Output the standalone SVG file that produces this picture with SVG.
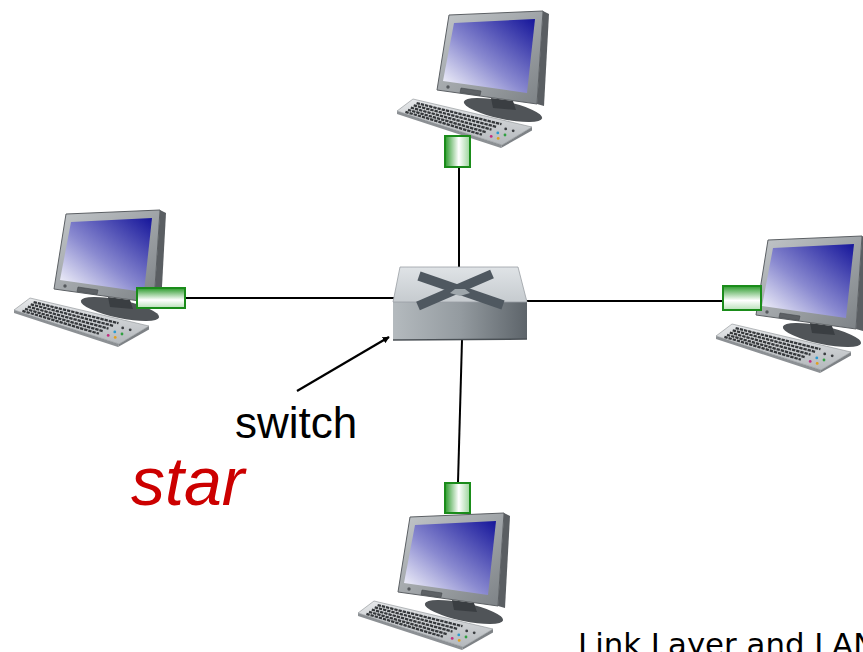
<svg xmlns="http://www.w3.org/2000/svg" width="863" height="652" viewBox="0 0 863 652">
<style>
.link{stroke:#000;stroke-width:2;fill:none}
.nic{stroke:#1a8c1a;stroke-width:2}
.lbl{font-family:"Liberation Sans",Arial,sans-serif}
</style>
<defs>
<linearGradient id="scr" x1="1" y1="0" x2="0" y2="1">
<stop offset="0" stop-color="#15159a"/><stop offset="0.55" stop-color="#8a8ad0"/><stop offset="1" stop-color="#ffffff"/>
</linearGradient>
<linearGradient id="bez" x1="0" y1="0" x2="1" y2="1">
<stop offset="0" stop-color="#c4c8cb"/><stop offset="1" stop-color="#7c8185"/>
</linearGradient>
<linearGradient id="kb" x1="0" y1="0" x2="0" y2="1">
<stop offset="0" stop-color="#e6e8ea"/><stop offset="1" stop-color="#b4b8bc"/>
</linearGradient>
<linearGradient id="nicV" x1="0" y1="0" x2="1" y2="0">
<stop offset="0" stop-color="#2a9a2a"/><stop offset="0.55" stop-color="#ffffff"/><stop offset="1" stop-color="#9ad49a"/>
</linearGradient>
<linearGradient id="nicH" x1="0" y1="0" x2="0" y2="1">
<stop offset="0" stop-color="#2a9a2a"/><stop offset="0.6" stop-color="#ffffff"/><stop offset="1" stop-color="#b8e0b8"/>
</linearGradient>
<linearGradient id="swTop" x1="0" y1="0" x2="0" y2="1">
<stop offset="0" stop-color="#dfe3e6"/><stop offset="1" stop-color="#c6cbcf"/>
</linearGradient>
<linearGradient id="swFront" x1="0" y1="0" x2="1" y2="0">
<stop offset="0" stop-color="#b4babe"/><stop offset="0.5" stop-color="#949ba0"/><stop offset="1" stop-color="#5d646a"/>
</linearGradient>
<marker id="ah" viewBox="0 0 10 10" refX="9" refY="5" markerWidth="7" markerHeight="7" markerUnits="userSpaceOnUse" orient="auto"><path d="M0,0 L10,5 L0,10 z" fill="#000"/></marker>
<g id="pc">
<ellipse cx="108" cy="104" rx="40" ry="9" transform="rotate(12 108 104)" fill="#505458"/>
<polygon points="96,92 118,95 121,104 98,102" fill="#3a3e42"/>
<polygon points="148,5 154,8 149,100 142,98" fill="#5a5e62"/>
<polygon points="54,9 148,5 142,98 42,84" fill="url(#bez)" stroke="#5c6064" stroke-width="1"/>
<polygon points="59,17 140,13 132,87 48,75" fill="url(#scr)"/>
<circle cx="53" cy="81" r="1.7" fill="#55595d"/>
<polygon points="66,82 86,85 85,89.5 65,86.5" fill="#5d6165" stroke="#45494d" stroke-width="0.6"/>
<polygon points="2,105 107,139 106,142 2,108" fill="#8c9094"/>
<polygon points="137,121 137,124.5 106,142 107,139" fill="#7e8286"/>
<polygon points="18,93 137,121 107,139 2,105" fill="url(#kb)" stroke="#8a8e92" stroke-width="0.6"/>
<g stroke="#35383b" stroke-width="2.3" stroke-dasharray="3.4 0.9" fill="none">
<line x1="21.6" y1="97.1" x2="106.5" y2="118.2"/>
<line x1="18.7" y1="99.3" x2="101.5" y2="120.9"/>
<line x1="15.8" y1="101.6" x2="96.5" y2="123.6"/>
<line x1="13" y1="103.8" x2="91.4" y2="126.3"/>
<line x1="10.4" y1="105.8" x2="86.9" y2="128.7"/>
</g>
<g>
<circle cx="110.7" cy="122.9" r="1.4" fill="#3a3d40"/>
<circle cx="118.2" cy="124.8" r="1.4" fill="#3a3d40"/>
<circle cx="102.8" cy="126.9" r="1.4" fill="#2a9ad0"/>
<circle cx="110" cy="129" r="1.4" fill="#30a040"/>
<circle cx="96.2" cy="130.4" r="1.4" fill="#c03080"/>
<circle cx="103.2" cy="132.4" r="1.4" fill="#e0a020"/>
</g>
</g>
</defs>
<rect width="863" height="652" fill="#fff"/>
<g id="links">
<line class="link" x1="459" y1="167" x2="459" y2="267"/>
<line class="link" x1="185" y1="298" x2="394" y2="298"/>
<line class="link" x1="527" y1="301" x2="723" y2="301"/>
<line class="link" x1="462" y1="340" x2="458" y2="482"/>
<line x1="297" y1="391" x2="389" y2="337" stroke="#000" stroke-width="2.2" marker-end="url(#ah)"/>
</g>
<g id="switch">
<polygon points="393,302 527,302 527,339 393,340" fill="url(#swFront)"/>
<line x1="393" y1="340" x2="527" y2="339" stroke="#4a5055" stroke-width="1.5"/>
<polygon points="400,267 518,267 527,302 393,302" fill="url(#swTop)" stroke="#9aa0a5" stroke-width="0.8"/>
<g stroke="#4f5860" stroke-width="9.5" stroke-linecap="butt">
<line x1="419" y1="276" x2="503" y2="305"/>
<line x1="492" y1="274" x2="418" y2="306"/>
</g>
<polygon points="455,289 465,289 470,293 460,296 450,293" fill="#9ea6ab"/>
</g>
<g id="pc-top">
<use href="#pc" x="395" y="6"/>
<rect class="nic" x="445" y="136" width="25" height="31" fill="url(#nicV)"/>
</g>
<g id="pc-left">
<use href="#pc" x="12" y="205"/>
<rect class="nic" x="137" y="288" width="48" height="20" fill="url(#nicH)"/>
</g>
<g id="pc-right">
<use href="#pc" x="714" y="231"/>
<rect class="nic" x="723" y="286" width="38" height="24" fill="url(#nicH)"/>
</g>
<g id="pc-bottom">
<use href="#pc" x="356" y="508"/>
<rect class="nic" x="445" y="483" width="25" height="30" fill="url(#nicV)"/>
</g>
<g id="labels">
<text class="lbl" x="235" y="438" font-size="44" fill="#000">switch</text>
<text class="lbl" x="131" y="505" font-size="68" font-style="italic" fill="#cc0000">star</text>
<text x="578" y="655" font-family="'DejaVu Sans',Verdana,sans-serif" font-size="30.8" fill="#000">Link Layer and LANs</text>
</g>
</svg>
